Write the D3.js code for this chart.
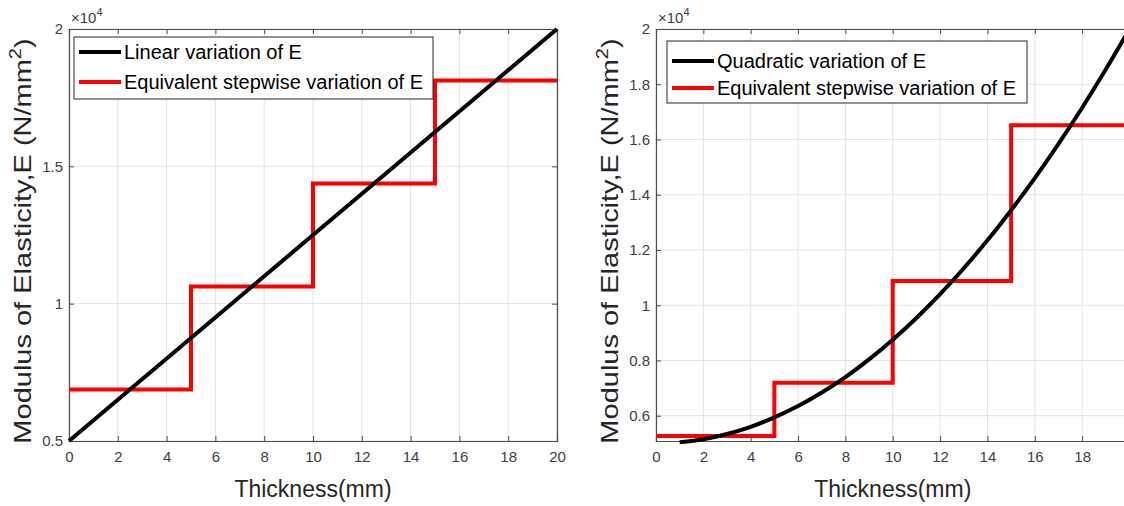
<!DOCTYPE html>
<meta charset="utf-8">
<script src="https://d3js.org/d3.v7.min.js"></script>
<style>
  body { margin: 0; background: #fff; }
  text { font-family: "Liberation Sans", Arial, sans-serif; }
</style>
<div id="my_dataviz"></div>
<script>

// data
var thickness = [0, 5, 10, 15, 20];
var linearE = [5000, 8750, 12500, 16250, 20000];
var stepEdges = [0, 5, 10, 15, 20];
var stepLinearE = [6875, 10625, 14375, 18125];

var quadThickness = [1, 2, 3, 4, 5, 6, 7, 8, 9, 10, 11, 12, 13, 14, 15, 16, 17, 18, 19, 20];
var quadraticE = [5040, 5150, 5340, 5600, 5940, 6350, 6840, 7400, 8040, 8750,
                  9540, 10400, 11340, 12350, 13440, 14600, 15840, 17150, 18540, 20000];
var stepQuadE = [5270, 7190, 10880, 16520];

var xTicks = [0, 2, 4, 6, 8, 10, 12, 14, 16, 18, 20];
var xTicksRightLabelled = [0, 2, 4, 6, 8, 10, 12, 14, 16, 18];
var yTicksLeft = [5000, 10000, 15000, 20000];
var yTickLabelsLeft = ["0.5", "1", "1.5", "2"];
var yTicksRight = [6000, 8000, 10000, 12000, 14000, 16000, 18000, 20000];
var yTickLabelsRight = ["0.6", "0.8", "1", "1.2", "1.4", "1.6", "1.8", "2"];

var legendLeft = ["Linear variation of E", "Equivalent stepwise variation of E"];
var legendRight = ["Quadratic variation of E", "Equivalent stepwise variation of E"];

var svg = d3.select("#my_dataviz")
  .append("svg")
    .attr("width", 1124)
    .attr("height", 506);

function stepPoints(edges, vals) {
  var pts = [];
  vals.forEach(function(v, i) { pts.push([edges[i], v]); });
  pts.push([edges[edges.length - 1], vals[vals.length - 1]]);
  return pts;
}

function drawPanel(opt) {
  var x = d3.scaleLinear().domain([0, 20]).range([opt.left, opt.right]);
  var y = d3.scaleLinear().domain(opt.yDomain).range([441, 29]);
  var g = svg.append("g");

  // grid
  g.selectAll(".gx").data(xTicks).enter().append("line")
    .attr("x1", function(d){ return x(d); }).attr("x2", function(d){ return x(d); })
    .attr("y1", y.range()[0]).attr("y2", y.range()[1])
    .attr("stroke", "#e3e3e3");
  g.selectAll(".gy").data(opt.yTicks).enter().append("line")
    .attr("y1", function(d){ return y(d); }).attr("y2", function(d){ return y(d); })
    .attr("x1", opt.left).attr("x2", opt.right)
    .attr("stroke", "#e3e3e3");

  // axes: bottom/left with labels, top/right ticks only (box on)
  var bottom = g.append("g").attr("transform", "translate(0,441)")
    .call(d3.axisBottom(x).tickValues(opt.xLabelled).tickSize(-5).tickPadding(10));
  var top = g.append("g").attr("transform", "translate(0,29)")
    .call(d3.axisTop(x).tickValues(xTicks).tickSize(-5).tickFormat(""));
  var left = g.append("g").attr("transform", "translate(" + opt.left + ",0)")
    .call(d3.axisLeft(y).tickValues(opt.yTicks).tickSize(-5).tickPadding(6)
      .tickFormat(function(d, i){ return opt.yLabels[i]; }));
  var right = g.append("g").attr("transform", "translate(" + opt.right + ",0)")
    .call(d3.axisRight(y).tickValues(opt.yTicks).tickSize(-5).tickFormat(""));
  [bottom, top, left, right].forEach(function(a) {
    a.select(".domain").attr("stroke", "#4d4d4d").attr("stroke-width", 1.2);
    a.selectAll(".tick line").attr("stroke", "#4d4d4d");
    a.selectAll("text").attr("fill", "#404040").style("font-size", "15px");
  });

  // data lines
  var line = d3.line().x(function(d){ return x(d[0]); }).y(function(d){ return y(d[1]); });
  g.append("path")
    .datum(stepPoints(stepEdges, opt.steps))
    .attr("d", line.curve(d3.curveStepAfter))
    .attr("fill", "none").attr("stroke", "#ff0000").attr("stroke-width", 4)
    .attr("stroke-linejoin", "miter");
  var smooth = d3.line().x(function(d){ return x(d[0]); }).y(function(d){ return y(d[1]); })
    .curve(d3.curveMonotoneX);
  g.append("path")
    .datum(opt.curveX.map(function(t, i){ return [t, opt.curveY[i]]; }))
    .attr("d", smooth)
    .attr("fill", "none").attr("stroke", "#000").attr("stroke-width", 4);

  // exponent label
  var ex = g.append("text").attr("x", opt.left + 2).attr("y", 23)
    .attr("fill", "#404040").style("font-size", "15px");
  ex.append("tspan").text("\u00d710");
  ex.append("tspan").attr("dy", -7).style("font-size", "11px").text("4");

  // axis titles
  g.append("text")
    .attr("x", (opt.left + opt.right) / 2).attr("y", 497)
    .attr("text-anchor", "middle").attr("fill", "#262626")
    .style("font-size", "23px").text("Thickness(mm)");
  var yl = g.append("text")
    .attr("transform", "translate(" + opt.yLabelX + ",241) scale(0.85,1) rotate(-90)")
    .attr("text-anchor", "middle").attr("fill", "#262626")
    .style("font-size", "29px");
  yl.append("tspan").text("Modulus of Elasticity,E (N/mm");
  yl.append("tspan").attr("dy", -12).style("font-size", "20px").text("2");
  yl.append("tspan").attr("dy", 12).text(")");

  // legend
  var L = opt.legend;
  g.append("rect").attr("x", L.x).attr("y", L.y).attr("width", L.w).attr("height", L.h)
    .attr("fill", "#fff").attr("stroke", "#262626").attr("stroke-width", 1);
  var colors = ["#000", "#ff0000"];
  opt.legendText.forEach(function(t, i) {
    var yy = L.rows[i];
    g.append("line").attr("x1", L.x + 5).attr("x2", L.x + 47)
      .attr("y1", yy).attr("y2", yy)
      .attr("stroke", colors[i]).attr("stroke-width", 4);
    g.append("text").attr("x", L.x + 50).attr("y", yy + 7)
      .attr("fill", "#000").style("font-size", "20px").text(t);
  });
}

drawPanel({
  left: 69, right: 557, yDomain: [5000, 20000],
  yTicks: yTicksLeft, yLabels: yTickLabelsLeft, xLabelled: xTicks,
  steps: stepLinearE, curveX: thickness, curveY: linearE,
  yLabelX: 31, legendText: legendLeft,
  legend: { x: 74, y: 37, w: 359, h: 62, rows: [52, 82] }
});

drawPanel({
  left: 656, right: 1129.5, yDomain: [5085, 20000],
  yTicks: yTicksRight, yLabels: yTickLabelsRight, xLabelled: xTicksRightLabelled,
  steps: stepQuadE, curveX: quadThickness, curveY: quadraticE,
  yLabelX: 618, legendText: legendRight,
  legend: { x: 667, y: 41, w: 360, h: 62, rows: [61, 88] }
});

</script>
